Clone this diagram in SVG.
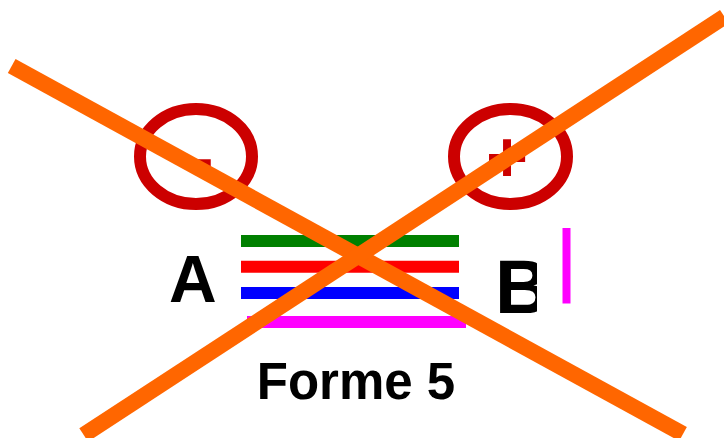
<svg xmlns="http://www.w3.org/2000/svg" width="724" height="438" viewBox="0 0 724 438">
<style>
.ring{fill:none;stroke:#cc0000;stroke-width:12}
.sign{font-family:"Liberation Sans",Arial,sans-serif;font-weight:bold;fill:#cc0000}
.lbl{font-family:"Liberation Sans",Arial,sans-serif;font-weight:bold;fill:#000}
.bar{stroke-width:12;fill:none}
.cross{stroke:#ff6600;stroke-width:16;fill:none}
</style>
<defs>
<clipPath id="clipB"><rect x="480" y="240" width="57" height="90"/></clipPath>
</defs>
<rect width="724" height="438" fill="#fff"/>
<g id="minus-terminal">
<ellipse class="ring" cx="196" cy="156.5" rx="56" ry="47.5"/>
<text class="sign" x="192" y="179.5" font-size="64">-</text>
</g>
<g id="plus-terminal">
<ellipse class="ring" cx="510.5" cy="156.5" rx="56.5" ry="47.5"/>
<text class="sign" x="486" y="181.5" font-size="72">+</text>
</g>
<g id="label-A">
<text class="lbl" x="169" y="302" font-size="66">A</text>
</g>
<g id="label-B">
<text class="lbl" x="495" y="312.5" font-size="76" clip-path="url(#clipB)">B</text>
</g>
<g id="wires">
<line class="bar" x1="241" y1="241" x2="459" y2="241" stroke="#008000"/>
<line class="bar" x1="241" y1="266.7" x2="459" y2="266.7" stroke="#ff0000"/>
<line class="bar" x1="241" y1="293" x2="459" y2="293" stroke="#0000ff"/>
<line class="bar" x1="247" y1="322" x2="466" y2="322" stroke="#ff00ff"/>
<line x1="566.5" y1="228" x2="566.5" y2="303.5" stroke="#ff00ff" stroke-width="8"/>
</g>
<g id="title">
<text class="lbl" x="356" y="399" font-size="51" text-anchor="middle">Forme 5</text>
</g>
<g id="connectors">
<line class="cross" x1="11.7" y1="66" x2="683" y2="434"/>
<line class="cross" x1="83.7" y1="435" x2="724.4" y2="16.7"/>
</g>
</svg>
